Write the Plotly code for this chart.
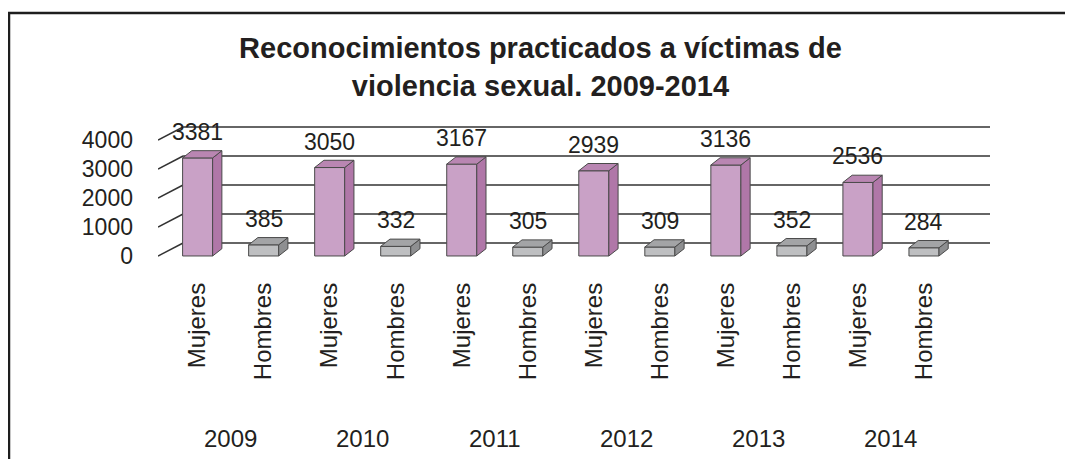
import plotly.graph_objects as go

# ---- data ----
years = ["2009", "2010", "2011", "2012", "2013", "2014"]
groups = ["Mujeres", "Hombres"]
mujeres = [3381, 3050, 3167, 2939, 3136, 2536]
hombres = [385, 332, 305, 309, 352, 284]
y_ticks = [0, 1000, 2000, 3000, 4000]

# interleave categories
cat_labels = []
values = []
kinds = []
for m, h in zip(mujeres, hombres):
    cat_labels += groups
    values += [m, h]
    kinds += ["M", "H"]
xs = list(range(len(values)))

# ---- style ----
FONT = "Liberation Sans, Arial, sans-serif"
TXT = "#231f20"
EDGE = "#4a4a4a"
front = {"M": "#c9a1c6", "H": "#bebfc1"}
side = {"M": "#b077a8", "H": "#8e8f91"}
top = {"M": "#b986b2", "H": "#a3a4a6"}

BW = 0.455          # bar width in category units
DX, DY = 0.14, 250  # bar depth offset (x units, y units)
WX, WY = 0.38, 448  # back wall offset
X0, X1 = -0.6, 12.0
Y0, Y1 = -35, 4482

W, H = 1065, 451
ML, MR, MT, MB = 150, 83, 118, 202
PW, PH = W - ML - MR, H - MT - MB

fig = go.Figure()

# back wall grid lines and left diagonals (below traces)
for v in y_ticks:
    fig.add_shape(type="line", xref="x", yref="y", x0=X0, y0=v, x1=X0 + WX, y1=v + WY,
                  line=dict(color="#333333", width=1.5), layer="below")
    fig.add_shape(type="line", xref="x", yref="y", x0=X0 + WX, y0=v + WY, x1=X1, y1=v + WY,
                  line=dict(color="#333333", width=1.5), layer="below")

# front faces
for k in ["M", "H"]:
    idx = [i for i in xs if kinds[i] == k]
    fig.add_trace(go.Bar(
        x=idx, y=[values[i] for i in idx], width=BW,
        marker=dict(color=front[k], line=dict(color=EDGE, width=1)),
        showlegend=False, hoverinfo="skip"))

# side and top faces
for k in ["M", "H"]:
    sx, sy, tx, ty = [], [], [], []
    for i in xs:
        if kinds[i] != k:
            continue
        v = values[i]
        xl, xr = i - BW / 2, i + BW / 2
        sx += [xr, xr + DX, xr + DX, xr, xr, None]
        sy += [0, DY, v + DY, v, 0, None]
        tx += [xl, xl + DX, xr + DX, xr, xl, None]
        ty += [v, v + DY, v + DY, v, v, None]
    fig.add_trace(go.Scatter(x=sx, y=sy, mode="lines", fill="toself", fillcolor=side[k],
                             line=dict(color=EDGE, width=1), showlegend=False, hoverinfo="skip"))
    fig.add_trace(go.Scatter(x=tx, y=ty, mode="lines", fill="toself", fillcolor=top[k],
                             line=dict(color=EDGE, width=1), showlegend=False, hoverinfo="skip"))

# value labels
for i, v in zip(xs, values):
    fig.add_annotation(x=i, y=v, xref="x", yref="y", text=str(v), showarrow=False,
                       yshift=26, yanchor="middle",
                       font=dict(family=FONT, size=23, color=TXT))

# year labels
year_y = -(430 - (MT + PH)) / PH
for k, yr in enumerate(years):
    fig.add_annotation(x=2 * k + 0.5, y=year_y, xref="x", yref="paper", text=yr,
                       showarrow=False, yanchor="middle",
                       font=dict(family=FONT, size=24, color=TXT))

# frame (left and top edges)
fx = (1 - ML) / PW
fy = 1 + (MT - 5) / PH
fxr = (W - ML) / PW
fig.add_shape(type="path", xref="paper", yref="paper",
              path=f"M {fx},-2 L {fx},{fy} L {fxr},{fy}",
              line=dict(color="#1e1e1e", width=2.5))

fig.update_layout(
    width=W, height=H,
    margin=dict(l=ML, r=MR, t=MT, b=MB, autoexpand=False),
    paper_bgcolor="white", plot_bgcolor="rgba(0,0,0,0)",
    barmode="overlay",
    title=dict(text="<b>Reconocimientos practicados a víctimas de<br>violencia sexual. 2009-2014</b>",
               x=0.5, xref="container", xanchor="center",
               y=1 - 50 / H, yref="container", yanchor="top",
               font=dict(family=FONT, size=29, color=TXT)),
    xaxis=dict(range=[X0, X1], tickmode="array", tickvals=xs, ticktext=cat_labels,
               tickangle=-90, showgrid=False, zeroline=False, showline=False,
               ticks="", ticklabelstandoff=20, automargin=False,
               tickfont=dict(family=FONT, size=24, color=TXT)),
    yaxis=dict(range=[Y0, Y1], tickmode="array", tickvals=y_ticks,
               showgrid=False, zeroline=False, showline=False, ticks="",
               ticklabelstandoff=24, automargin=False,
               tickfont=dict(family=FONT, size=23, color=TXT)),
)

fig.write_html("out.html")
